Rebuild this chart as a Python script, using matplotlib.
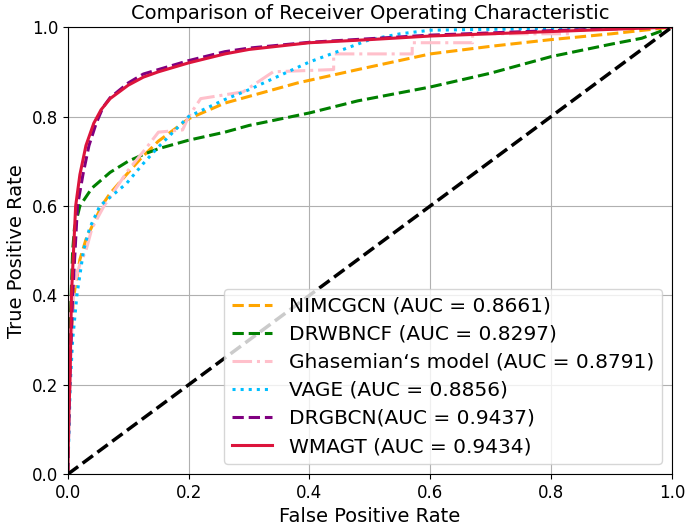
import numpy as np
import matplotlib.pyplot as plt

# ROC points
nimcgcn_fpr = [0, 0.002, 0.005, 0.01, 0.02, 0.03, 0.042, 0.056, 0.07, 0.097, 0.12, 0.15, 0.2, 0.26, 0.3, 0.38, 0.48, 0.6, 0.7, 0.8, 0.9, 1.0]
nimcgcn_tpr = [0, 0.2, 0.3, 0.4, 0.48, 0.525, 0.56, 0.6, 0.628, 0.67, 0.705, 0.745, 0.795, 0.83, 0.845, 0.875, 0.905, 0.94, 0.957, 0.972, 0.985, 1.0]

drwbncf_fpr = [0, 0.003, 0.008, 0.011, 0.02, 0.04, 0.07, 0.1, 0.125, 0.15, 0.2, 0.26, 0.3, 0.4, 0.48, 0.6, 0.7, 0.8, 0.9, 0.95, 1.0]
drwbncf_tpr = [0, 0.3, 0.5, 0.55, 0.6, 0.64, 0.675, 0.7, 0.715, 0.728, 0.747, 0.765, 0.78, 0.808, 0.835, 0.866, 0.897, 0.934, 0.962, 0.975, 1.0]

ghas_fpr = [0, 0.003, 0.006, 0.01, 0.02, 0.03, 0.04, 0.06, 0.08, 0.1, 0.13, 0.15, 0.19, 0.2, 0.22, 0.29, 0.34, 0.44, 0.44, 0.57, 0.57, 0.67, 0.67, 0.83, 0.83, 1.0]
ghas_tpr = [0, 0.2, 0.3, 0.42, 0.47, 0.5, 0.55, 0.6, 0.64, 0.68, 0.73, 0.765, 0.77, 0.8, 0.84, 0.855, 0.9, 0.905, 0.94, 0.94, 0.965, 0.965, 0.985, 0.985, 1.0, 1.0]

vage_fpr = [0, 0.002, 0.004, 0.008, 0.015, 0.026, 0.036, 0.053, 0.075, 0.097, 0.125, 0.15, 0.2, 0.26, 0.3, 0.345, 0.4, 0.45, 0.5, 0.55, 0.6, 0.7, 0.8, 1.0]
vage_tpr = [0, 0.1, 0.2, 0.3, 0.4, 0.5, 0.55, 0.6, 0.625, 0.65, 0.695, 0.732, 0.8, 0.838, 0.86, 0.888, 0.922, 0.947, 0.972, 0.985, 0.993, 0.995, 0.997, 1.0]

drgbcn_fpr = [0, 0.003, 0.008, 0.016, 0.025, 0.035, 0.047, 0.058, 0.07, 0.1, 0.125, 0.15, 0.2, 0.26, 0.3, 0.4, 0.5, 0.6, 0.7, 0.8, 0.9, 1.0]
drgbcn_tpr = [0, 0.2, 0.4, 0.6, 0.67, 0.735, 0.785, 0.82, 0.842, 0.875, 0.895, 0.905, 0.925, 0.945, 0.953, 0.966, 0.974, 0.982, 0.987, 0.992, 0.996, 1.0]

wmagt_fpr = [0, 0.002, 0.0035, 0.006, 0.013, 0.02, 0.03, 0.043, 0.055, 0.07, 0.1, 0.125, 0.15, 0.2, 0.26, 0.3, 0.4, 0.5, 0.6, 0.7, 0.8, 0.9, 1.0]
wmagt_tpr = [0, 0.15, 0.2, 0.4, 0.6, 0.67, 0.735, 0.785, 0.815, 0.84, 0.87, 0.888, 0.9, 0.92, 0.94, 0.95, 0.965, 0.972, 0.98, 0.985, 0.99, 0.995, 1.0]

fig = plt.figure(figsize=(6.85, 5.31), dpi=100)
ax = fig.add_axes([0.099, 0.107, 0.882, 0.842])

lw = 2.2
ax.plot(nimcgcn_fpr, nimcgcn_tpr, '--', color='orange', lw=lw, label='NIMCGCN (AUC = 0.8661)')
ax.plot(drwbncf_fpr, drwbncf_tpr, '--', color='green', lw=lw, label='DRWBNCF (AUC = 0.8297)')
ax.plot(ghas_fpr, ghas_tpr, '-.', color='pink', lw=lw, label='Ghasemian\u2018s model (AUC = 0.8791)')
ax.plot(vage_fpr, vage_tpr, ':', color='deepskyblue', lw=lw, label='VAGE (AUC = 0.8856)')
ax.plot(drgbcn_fpr, drgbcn_tpr, '--', color='purple', lw=lw, label='DRGBCN(AUC = 0.9437)')
ax.plot(wmagt_fpr, wmagt_tpr, '-', color='crimson', lw=lw, label='WMAGT (AUC = 0.9434)')
ax.plot([0, 1], [0, 1], 'k--', lw=2.5)

ax.set_xlim(0, 1)
ax.set_ylim(0, 1)
ax.tick_params(labelsize=12)
ax.set_xlabel('False Positive Rate', fontsize=14)
ax.set_ylabel('True Positive Rate', fontsize=14)
ax.set_title('Comparison of Receiver Operating Characteristic', fontsize=14)
ax.grid(True)
ax.legend(loc='lower right', fontsize=14.5, labelspacing=0.45)

plt.savefig('out.png')
